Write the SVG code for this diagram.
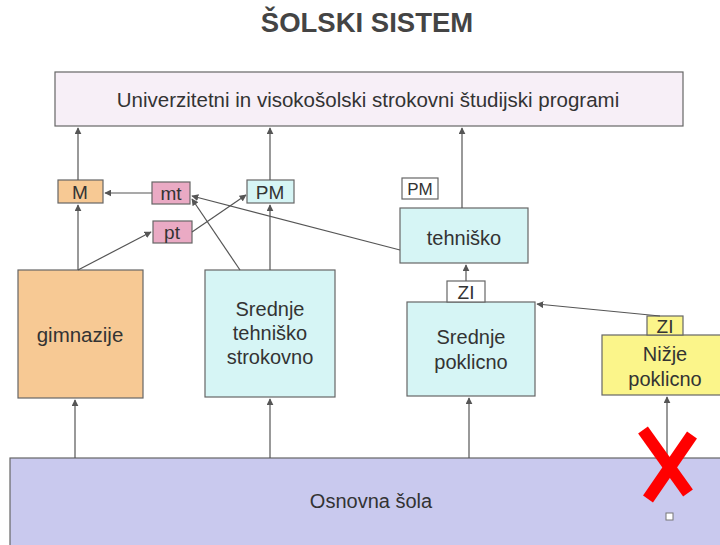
<svg xmlns="http://www.w3.org/2000/svg" width="720" height="545" viewBox="0 0 720 545">
<style>
text{font-family:"Liberation Sans",Arial,sans-serif;fill:#333;text-anchor:middle}
.bx{stroke:#666;stroke-width:1.2}
.c{stroke:#555;stroke-width:1.2;fill:none;marker-end:url(#a)}
</style>
<defs>
<marker id="a" viewBox="0 0 10 10" refX="9" refY="5" markerWidth="7" markerHeight="7" orient="auto-start-reverse" markerUnits="userSpaceOnUse">
<path d="M0,0 L10,5 L0,10 z" fill="#555"/>
</marker>
</defs>
<rect width="720" height="545" fill="#fff"/>
<text x="367" y="32" font-size="27.5" font-weight="bold" style="fill:#444">ŠOLSKI SISTEM</text>

<g id="univerza"><rect class="bx" x="55" y="72" width="628" height="54" fill="#f7eff7"/>
<text x="368" y="107" font-size="20.5">Univerzitetni in visokošolski strokovni študijski programi</text></g>

<g id="osnovna"><rect class="bx" x="10" y="458" width="715" height="95" fill="#c9c9ee"/>
<text x="371" y="508" font-size="20">Osnovna šola</text>
<rect x="666" y="513" width="7" height="7" fill="#fff" stroke="#777" stroke-width="1"/></g>

<g id="gimnazije"><rect class="bx" x="18" y="270" width="125" height="128" fill="#f7c994"/>
<text x="80" y="342" font-size="20.5">gimnazije</text></g>

<g id="srednje-tehnisko"><rect class="bx" x="205" y="270" width="130" height="127" fill="#d6f5f5"/>
<text x="270" y="316" font-size="20">Srednje</text>
<text x="270" y="340" font-size="20">tehniško</text>
<text x="270" y="364" font-size="20">strokovno</text></g>

<g id="srednje-poklicno"><rect class="bx" x="407" y="302" width="128" height="94" fill="#d6f5f5"/>
<text x="471" y="344" font-size="20">Srednje</text>
<text x="471" y="369" font-size="20">poklicno</text></g>

<g id="nizje-poklicno"><rect class="bx" x="602" y="335" width="125" height="60" fill="#fbf58a"/>
<text x="665" y="361" font-size="20">Nižje</text>
<text x="665" y="386" font-size="20">poklicno</text></g>

<g id="tehnisko"><rect class="bx" x="400" y="208" width="128" height="55" fill="#d6f5f5"/>
<text x="464" y="245" font-size="20">tehniško</text></g>

<g id="M"><rect class="bx" x="58" y="180" width="45" height="23" fill="#f7c994"/>
<text x="80" y="199" font-size="19">M</text></g>
<g id="mt"><rect class="bx" x="152" y="182" width="38" height="22" fill="#eaaac4"/>
<text x="171" y="200" font-size="19">mt</text></g>
<g id="pt"><rect class="bx" x="153" y="221" width="39" height="22" fill="#eaaac4"/>
<text x="172" y="239" font-size="19">pt</text></g>
<g id="PM1"><rect class="bx" x="247" y="180" width="47" height="23" fill="#d6f5f5"/>
<text x="270" y="199" font-size="19">PM</text></g>
<g id="PM2"><rect class="bx" x="402" y="178" width="36" height="21" fill="#fff"/>
<text x="420" y="195" font-size="17">PM</text></g>
<g id="ZI1"><rect class="bx" x="447" y="281" width="38" height="21" fill="#fff"/>
<text x="466" y="299" font-size="19">ZI</text></g>
<g id="ZI2"><rect class="bx" x="647" y="316" width="36" height="19" fill="#fbf58a"/>
<text x="665" y="333" font-size="19">ZI</text></g>

<g id="connectors">
<path class="c" d="M78,180 L78,128"/>
<path class="c" d="M270,180 L270,128"/>
<path class="c" d="M462,208 L462,128"/>
<path class="c" d="M78,270 L78,205"/>
<path class="c" d="M78,270 L151,232"/>
<path class="c" d="M192,232 L246,195"/>
<path class="c" d="M152,193 L105,193"/>
<path class="c" d="M240,270 L192,199"/>
<path class="c" d="M400,250 L192,196"/>
<path class="c" d="M270,270 L270,205"/>
<path class="c" d="M466,281 L466,265"/>
<path class="c" d="M660,316 L537,304"/>
<path class="c" d="M75,458 L75,400"/>
<path class="c" d="M270,458 L270,399"/>
<path class="c" d="M469,458 L469,398"/>
<path class="c" d="M667,458 L667,397"/>
</g>
<g id="x-mark" stroke="#f00" stroke-width="12" stroke-linecap="butt">
<path d="M643,430 L688,493"/>
<path d="M692,435 L648,499"/>
</g>
</svg>
